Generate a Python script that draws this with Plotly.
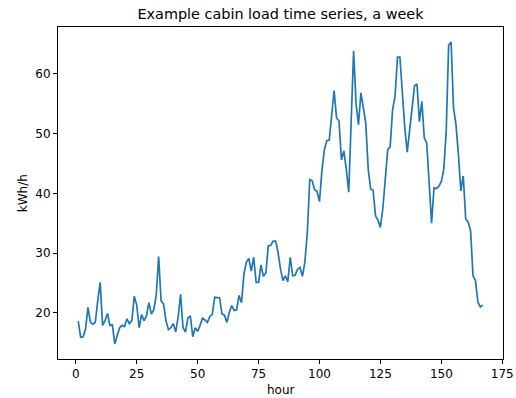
import plotly.graph_objects as go

# Hourly cabin load over one week (kWh/h)
load_kwh = [
    18.6, 15.9, 16.0, 17.3, 20.9, 18.4, 18.1, 18.4, 22.0, 25.1,
    17.9, 18.7, 19.9, 17.9, 18.0, 14.8, 16.2, 17.5, 17.9, 17.7,
    19.0, 18.2, 18.7, 22.8, 21.3, 17.5, 19.7, 18.7, 19.5, 21.7,
    19.8, 20.5, 22.9, 29.4, 22.0, 21.5, 18.7, 17.2, 17.5, 18.2,
    16.8, 19.3, 23.1, 17.5, 16.8, 19.1, 19.5, 16.0, 17.5, 16.9,
    17.9, 19.1, 18.8, 18.4, 19.4, 19.7, 22.6, 22.6, 22.5, 19.8,
    19.6, 18.4, 20.1, 21.2, 20.4, 20.5, 22.9, 21.7, 26.5, 28.5,
    29.1, 27.0, 29.3, 25.1, 25.1, 28.0, 26.1, 26.7, 31.2, 31.3,
    32.0, 32.0, 30.1, 27.3, 25.4, 26.2, 25.2, 29.3, 26.2, 26.3,
    27.3, 27.6, 26.1, 28.5, 33.4, 42.3, 42.1, 40.6, 40.3, 38.6,
    43.8, 47.3, 48.8, 48.9, 53.2, 57.2, 52.6, 52.1, 45.6, 47.1,
    44.0, 40.2, 52.0, 63.8, 55.0, 51.5, 56.8, 54.2, 51.7, 44.0,
    40.7, 40.5, 36.2, 35.5, 34.3, 37.5, 42.0, 47.3, 47.8, 54.0,
    56.2, 62.8, 62.8, 56.0, 51.0, 46.9, 51.0, 54.0, 58.0, 58.3,
    52.0, 55.4, 49.3, 48.4, 41.5, 35.0, 40.9, 40.8, 41.2, 42.0,
    44.0, 50.4, 64.8, 65.3, 54.3, 51.5, 46.5, 40.4, 42.9, 35.7,
    35.2, 33.7, 26.2, 25.4, 21.8, 21.0, 21.3,
]
hours = list(range(1, len(load_kwh) + 1))

x_ticks = [0, 25, 50, 75, 100, 125, 150, 175]
y_ticks = [20, 30, 40, 50, 60]


def padded(values, frac=0.05):
    lo, hi = min(values), max(values)
    pad = (hi - lo) * frac
    return [lo - pad, hi + pad]


FONT = "DejaVu Sans"
INK = "#000000"
TICK_SIZE = 12

fig = go.Figure()
fig.add_trace(go.Scatter(
    x=hours, y=load_kwh, mode="lines",
    line=dict(color="#1f77b4", width=1.7),
    hoverinfo="x+y", showlegend=False,
))

axis_common = dict(
    showgrid=False, zeroline=False, automargin=False,
    showline=True, mirror=True, linecolor=INK, linewidth=0.9,
    ticks="outside", ticklen=4, tickwidth=0.9, tickcolor=INK,
    tickfont=dict(family=FONT, size=TICK_SIZE, color=INK),
)

fig.update_layout(
    template="none",
    width=516, height=398,
    margin=dict(l=58, r=13, t=27, b=39, pad=0, autoexpand=False),
    paper_bgcolor="white", plot_bgcolor="white",
    font=dict(family=FONT, color=INK),
    title=dict(
        text="Example cabin load time series, a week",
        font=dict(family=FONT, size=14.4, color=INK),
        x=0.5, xref="paper", xanchor="center",
        y=1 - 13.5 / 398, yref="container", yanchor="middle",
    ),
    xaxis=dict(range=padded(hours), tickmode="array", tickvals=x_ticks,
               **axis_common),
    yaxis=dict(range=padded(load_kwh), tickmode="array", tickvals=y_ticks,
               **axis_common),
    annotations=[
        dict(text="hour", xref="paper", yref="paper", x=0.5, y=-0.092,
             xanchor="center", yanchor="middle", showarrow=False,
             font=dict(family=FONT, size=TICK_SIZE, color=INK)),
        dict(text="kWh/h", xref="paper", yref="paper", x=-0.078, y=0.5,
             xanchor="center", yanchor="middle", textangle=-90,
             showarrow=False, font=dict(family=FONT, size=TICK_SIZE, color=INK)),
    ],
)

fig.write_html("out.html")
